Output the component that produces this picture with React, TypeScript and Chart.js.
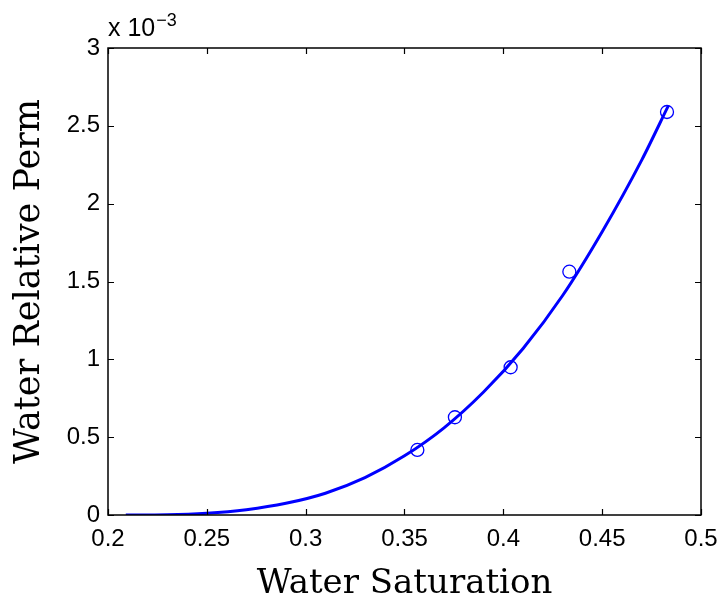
import React, { useEffect, useRef } from "react";
import { Chart, registerables } from "chart.js";

Chart.register(...registerables);

// Fitted curve (values in units of 1e-3)
const fitSaturation = [0.209, 0.23, 0.25, 0.27, 0.29, 0.31, 0.33, 0.35, 0.37, 0.39, 0.41, 0.43, 0.45, 0.47, 0.4835];
const fitPerm = [0, 0.0015, 0.011, 0.034, 0.075, 0.14, 0.24, 0.38, 0.56, 0.79, 1.07, 1.41, 1.82, 2.28, 2.63];

// Measured points (values in units of 1e-3)
const dataSaturation = [0.3565, 0.3755, 0.4037, 0.4334, 0.4828];
const dataPerm = [0.418, 0.628, 0.949, 1.563, 2.589];

const xTickValues = [0.2, 0.25, 0.3, 0.35, 0.4, 0.45, 0.5];
const xTickLabels = ["0.2", "0.25", "0.3", "0.35", "0.4", "0.45", "0.5"];
const yTickValues = [0, 0.5, 1, 1.5, 2, 2.5, 3];
const yTickLabels = ["0", "0.5", "1", "1.5", "2", "2.5", "3"];

const xTitle = "Water Saturation";
const yTitle = "Water Relative Perm";
const exponentBase = "x 10";
const exponentPower = "\u22123";

const SANS = "'Liberation Sans', Arial, sans-serif";
const SERIF = "'DejaVu Serif', serif";

const framePlugin = {
  id: "matlabFrame",
  afterDraw(chart: any) {
    const { ctx, chartArea, scales } = chart;
    const { left, right, top, bottom } = chartArea;
    const x = scales.x;
    const y = scales.y;
    ctx.save();
    ctx.strokeStyle = "#000";
    ctx.lineWidth = 1.5;
    ctx.strokeRect(left, top, right - left, bottom - top);
    ctx.lineWidth = 1.2;
    ctx.beginPath();
    const tl = 6;
    x.ticks.forEach((t: any) => {
      const px = Math.round(x.getPixelForValue(t.value)) + 0.5;
      ctx.moveTo(px, bottom);
      ctx.lineTo(px, bottom - tl);
      ctx.moveTo(px, top);
      ctx.lineTo(px, top + tl);
    });
    y.ticks.forEach((t: any) => {
      const py = Math.round(y.getPixelForValue(t.value)) + 0.5;
      ctx.moveTo(left, py);
      ctx.lineTo(left + tl, py);
      ctx.moveTo(right, py);
      ctx.lineTo(right - tl, py);
    });
    ctx.stroke();

    ctx.fillStyle = "#000";
    ctx.textAlign = "left";
    ctx.textBaseline = "alphabetic";
    ctx.font = `25px ${SANS}`;
    ctx.fillText(exponentBase, left, top - 12);
    const w = ctx.measureText(exponentBase).width;
    ctx.font = `18px ${SANS}`;
    ctx.fillText(exponentPower, left + w + 1, top - 22);
    ctx.restore();
  },
};

export default function App() {
  const canvasRef = useRef<HTMLCanvasElement | null>(null);

  useEffect(() => {
    const canvas = canvasRef.current;
    if (!canvas) return;
    const chart = new Chart(canvas, {
      type: "scatter",
      data: {
        datasets: [
          {
            label: "fit",
            data: fitSaturation.map((s, i) => ({ x: s, y: fitPerm[i] })),
            showLine: true,
            borderColor: "#0000ff",
            borderWidth: 3,
            pointRadius: 0,
            cubicInterpolationMode: "monotone",
            fill: false,
          },
          {
            label: "data",
            data: dataSaturation.map((s, i) => ({ x: s, y: dataPerm[i] })),
            showLine: false,
            borderColor: "#0000ff",
            backgroundColor: "rgba(0,0,0,0)",
            borderWidth: 1.3,
            pointRadius: 6.5,
            pointStyle: "circle",
          },
        ],
      },
      options: {
        responsive: false,
        animation: false,
        devicePixelRatio: 1,
        layout: { padding: { left: 0, top: 48, right: 19, bottom: 0 } },
        plugins: {
          legend: { display: false },
          tooltip: { enabled: false },
        },
        scales: {
          x: {
            type: "linear",
            min: 0.2,
            max: 0.5,
            grid: { display: false, drawTicks: false },
            border: { display: false },
            afterBuildTicks: (scale: any) => {
              scale.ticks = xTickValues.map((v) => ({ value: v }));
            },
            afterFit: (scale: any) => {
              scale.height = 86;
              scale.paddingLeft = 0;
              scale.paddingRight = 0;
            },
            ticks: {
              autoSkip: false,
              maxRotation: 0,
              padding: 10,
              color: "#000",
              font: { family: SANS, size: 24 },
              callback: (_v: any, i: number) => xTickLabels[i],
            },
            title: {
              display: true,
              text: xTitle,
              color: "#000",
              font: { family: SERIF, size: 34, lineHeight: 1 },
              padding: { top: 0, bottom: 0 },
            },
          },
          y: {
            type: "linear",
            min: 0,
            max: 3,
            grid: { display: false, drawTicks: false },
            border: { display: false },
            afterBuildTicks: (scale: any) => {
              scale.ticks = yTickValues.map((v) => ({ value: v }));
            },
            afterFit: (scale: any) => {
              scale.width = 108;
              scale.paddingTop = 0;
              scale.paddingBottom = 0;
            },
            ticks: {
              autoSkip: false,
              padding: 8,
              color: "#000",
              font: { family: SANS, size: 24 },
              callback: (_v: any, i: number) => yTickLabels[i],
            },
            title: {
              display: true,
              text: yTitle,
              color: "#000",
              font: { family: SERIF, size: 35, lineHeight: 1 },
              padding: { top: 12, bottom: 0 },
            },
          },
        },
      },
      plugins: [framePlugin],
    } as any);
    return () => chart.destroy();
  }, []);

  return (
    <div style={{ position: "absolute", left: 0, top: 0, width: 720, height: 601, background: "#fff" }}>
      <canvas ref={canvasRef} width={720} height={601} style={{ display: "block", width: 720, height: 601 }} />
    </div>
  );
}
